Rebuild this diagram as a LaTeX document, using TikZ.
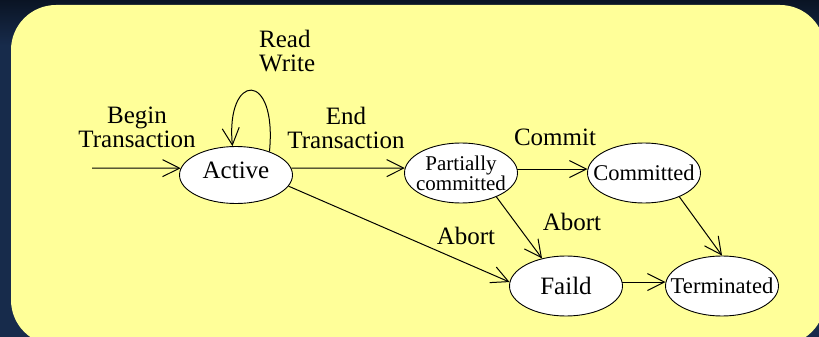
\documentclass[tikz,border=0pt]{standalone}
\usepackage{fontspec}
\setmainfont{Liberation Serif}
\usetikzlibrary{arrows.meta,shapes.geometric}
\definecolor{navy}{HTML}{172B4B}
\definecolor{navytop}{HTML}{0A1424}
\definecolor{paleyellow}{HTML}{FFFF99}
\begin{document}
\begin{tikzpicture}[x=1pt,y=-1pt,
  state/.style={ellipse,draw=black,line width=0.9pt,fill=white,inner xsep=-14pt,inner ysep=-10pt,minimum width=113pt,minimum height=60pt},
  lbl/.style={font=\fontsize{25}{24}\selectfont,inner sep=0pt,align=center},
  edge/.style={draw=black,line width=1pt,-{Straight Barb[length=17pt,width=17pt]}}]
\useasboundingbox (0,0) rectangle (819,337);
\fill[navy] (0,0) rectangle (819,337);
\shade[top color=navytop,bottom color=navy] (0,0) rectangle (819,45);
\begin{scope}
  \clip (0,0) rectangle (819,337);
  \fill[paleyellow,rounded corners=45pt] (11,5) rectangle (825,345);
\end{scope}

\node[state,minimum height=57pt,font=\fontsize{25}{25}\selectfont] (active) at (236,175) {\smash{Active}\rule{0pt}{6pt}};
\node[state,align=center,font=\fontsize{21}{16.5}\selectfont] (partial) at (461,173) {Partially\\committed};
\node[state,font=\fontsize{22.5}{22}\selectfont] (committed) at (644,173) {Committed};
\node[state,font=\fontsize{25}{25}\selectfont] (faild) at (566,286) {Faild};
\node[state,font=\fontsize{22.6}{23}\selectfont] (terminated) at (722,286) {Terminated};
\coordinate (start) at (92,168);

\draw[edge] (start) -- (active.173);
\draw[edge] (active.7) -- (partial.175);
\draw[edge] (partial.4) -- (committed.176);
\draw[edge] (active.-12) -- (faild.176);
\draw[edge] (partial.-34) -- (faild.131);
\draw[edge] (committed.-34) -- (terminated.90);
\draw[edge] (faild.4) -- (terminated.176);
\draw[edge] (active.35) .. controls +(8,-82) and +(-7,-74) .. (active.97);

\node[lbl] (lbegin) at (137,127) {Begin\\Transaction};
\node[lbl,align=left,anchor=west] (lrw) at (259,51) {Read\\Write};
\node[lbl] (lend) at (346,128) {End\\Transaction};
\node[lbl] (lcommit) at (555,137.5) {Commit};
\node[lbl] (labort1) at (466,235.5) {Abort};
\node[lbl] (labort2) at (572,221.5) {Abort};
\end{tikzpicture}
\end{document}
